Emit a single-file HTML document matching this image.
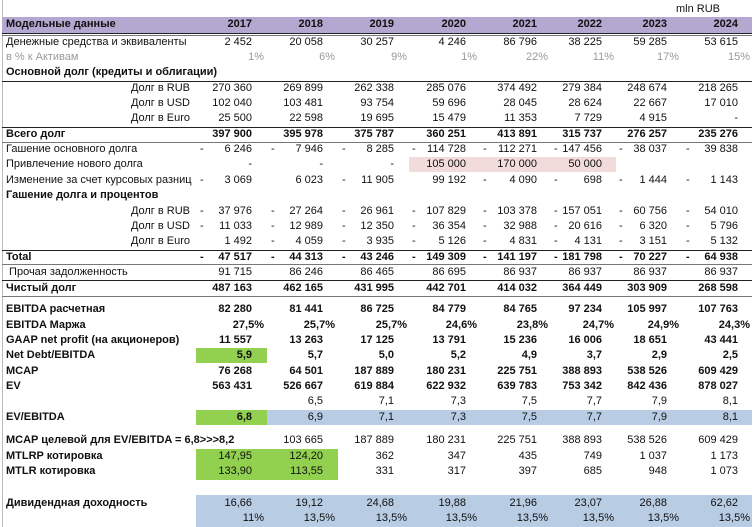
<!DOCTYPE html>
<html><head><meta charset="utf-8"><style>
body{margin:0;width:756px;height:527px;background:#fff;position:relative;overflow:hidden;font-family:"Liberation Sans",sans-serif;font-size:11px;color:#111}
.r{position:absolute;left:0;width:756px;height:15px;line-height:15px}
.r span{position:absolute;white-space:nowrap}
.b{font-weight:bold}
.l{left:6px}.li{right:566px}
.c1{right:504px}.c2{right:433px}.c3{right:362px}.c4{right:290px}.c5{right:219px}.c6{right:154px}.c7{right:89px}.c8{right:18px}
.p1{right:492px}.p2{right:421px}.p3{right:349px}.p4{right:279px}.p5{right:208px}.p6{right:142px}.p7{right:77px}.p8{right:6px}
.d1{left:200px}.d2{left:271px}.d3{left:342px}.d4{left:412px}.d5{left:483px}.d6{left:554px}.d7{left:619px}.d8{left:686px}
.hl{position:absolute;left:2px;width:750px;height:1px;background:#222}
.bx{position:absolute}
.g{color:#999}
</style></head><body>
<div style="position:absolute;left:2px;top:0;width:1px;height:527px;background:#bbb"></div>
<div class="bx" style="left:2px;top:17px;width:750px;height:16px;background:#b4a7d0"></div>
<div class="hl" style="top:33px"></div><div class="hl" style="top:35px;background:#777"></div>
<div class="hl" style="top:81px"></div>
<div class="hl" style="top:127px"></div>
<div class="hl" style="top:142px;background:#777"></div>
<div class="hl" style="top:250px"></div>
<div class="hl" style="top:264px;background:#777"></div>
<div class="hl" style="top:280px"></div>
<div class="hl" style="top:296px;background:#777"></div>
<div class="bx" style="left:409px;top:157px;width:207px;height:15px;background:#f2dcdb"></div>
<div class="bx" style="left:196px;top:348px;width:71px;height:15px;background:#92d050"></div>
<div class="bx" style="left:196px;top:410px;width:71px;height:15px;background:#92d050"></div>
<div class="bx" style="left:267px;top:410px;width:485px;height:15px;background:#b8cce4"></div>
<div class="bx" style="left:196px;top:449px;width:142px;height:31px;background:#92d050"></div>
<div class="bx" style="left:196px;top:495px;width:556px;height:32px;background:#b8cce4"></div>

<div class="r" style="top:2px"><span style="right:36px">mln RUB</span></div>
<div class="r b" style="top:17px"><span class="l">Модельные данные</span><span class="c1">2017</span><span class="c2">2018</span><span class="c3">2019</span><span class="c4">2020</span><span class="c5">2021</span><span class="c6">2022</span><span class="c7">2023</span><span class="c8">2024</span></div>
<div class="r" style="top:35px"><span class="l">Денежные средства и эквиваленты</span><span class="c1">2 452</span><span class="c2">20 058</span><span class="c3">30 257</span><span class="c4">4 246</span><span class="c5">86 796</span><span class="c6">38 225</span><span class="c7">59 285</span><span class="c8">53 615</span></div>
<div class="r g" style="top:50px"><span class="l">в % к Активам</span><span class="p1">1%</span><span class="p2">6%</span><span class="p3">9%</span><span class="p4">1%</span><span class="p5">22%</span><span class="p6">11%</span><span class="p7">17%</span><span class="p8">15%</span></div>
<div class="r b" style="top:65px"><span class="l">Основной долг (кредиты и облигации)</span></div>
<div class="r" style="top:81px"><span class="li">Долг в RUB</span><span class="c1">270 360</span><span class="c2">269 899</span><span class="c3">262 338</span><span class="c4">285 076</span><span class="c5">374 492</span><span class="c6">279 384</span><span class="c7">248 674</span><span class="c8">218 265</span></div>
<div class="r" style="top:96px"><span class="li">Долг в USD</span><span class="c1">102 040</span><span class="c2">103 481</span><span class="c3">93 754</span><span class="c4">59 696</span><span class="c5">28 045</span><span class="c6">28 624</span><span class="c7">22 667</span><span class="c8">17 010</span></div>
<div class="r" style="top:111px"><span class="li">Долг в Euro</span><span class="c1">25 500</span><span class="c2">22 598</span><span class="c3">19 695</span><span class="c4">15 479</span><span class="c5">11 353</span><span class="c6">7 729</span><span class="c7">4 915</span><span class="c8">-</span></div>
<div class="r b" style="top:127px"><span class="l">Всего долг</span><span class="c1">397 900</span><span class="c2">395 978</span><span class="c3">375 787</span><span class="c4">360 251</span><span class="c5">413 891</span><span class="c6">315 737</span><span class="c7">276 257</span><span class="c8">235 276</span></div>
<div class="r" style="top:142px"><span class="l">Гашение основного долга</span><span class="d1">-</span><span class="c1">6 246</span><span class="d2">-</span><span class="c2">7 946</span><span class="d3">-</span><span class="c3">8 285</span><span class="d4">-</span><span class="c4">114 728</span><span class="d5">-</span><span class="c5">112 271</span><span class="d6">-</span><span class="c6">147 456</span><span class="d7">-</span><span class="c7">38 037</span><span class="d8">-</span><span class="c8">39 838</span></div>
<div class="r" style="top:157px"><span class="l">Привлечение нового долга</span><span class="c1">-</span><span class="c2">-</span><span class="c3">-</span><span class="c4">105 000</span><span class="c5">170 000</span><span class="c6">50 000</span></div>
<div class="r" style="top:173px"><span class="l">Изменение за счет курсовых разниц</span><span class="d1">-</span><span class="c1">3 069</span><span class="c2">6 023</span><span class="d3">-</span><span class="c3">11 905</span><span class="c4">99 192</span><span class="d5">-</span><span class="c5">4 090</span><span class="d6">-</span><span class="c6">698</span><span class="d7">-</span><span class="c7">1 444</span><span class="d8">-</span><span class="c8">1 143</span></div>
<div class="r b" style="top:188px"><span class="l">Гашение долга и процентов</span></div>
<div class="r" style="top:204px"><span class="li">Долг в RUB</span><span class="d1">-</span><span class="c1">37 976</span><span class="d2">-</span><span class="c2">27 264</span><span class="d3">-</span><span class="c3">26 961</span><span class="d4">-</span><span class="c4">107 829</span><span class="d5">-</span><span class="c5">103 378</span><span class="d6">-</span><span class="c6">157 051</span><span class="d7">-</span><span class="c7">60 756</span><span class="d8">-</span><span class="c8">54 010</span></div>
<div class="r" style="top:219px"><span class="li">Долг в USD</span><span class="d1">-</span><span class="c1">11 033</span><span class="d2">-</span><span class="c2">12 989</span><span class="d3">-</span><span class="c3">12 350</span><span class="d4">-</span><span class="c4">36 354</span><span class="d5">-</span><span class="c5">32 988</span><span class="d6">-</span><span class="c6">20 616</span><span class="d7">-</span><span class="c7">6 320</span><span class="d8">-</span><span class="c8">5 796</span></div>
<div class="r" style="top:234px"><span class="li">Долг в Euro</span><span class="c1">1 492</span><span class="d2">-</span><span class="c2">4 059</span><span class="d3">-</span><span class="c3">3 935</span><span class="d4">-</span><span class="c4">5 126</span><span class="d5">-</span><span class="c5">4 831</span><span class="d6">-</span><span class="c6">4 131</span><span class="d7">-</span><span class="c7">3 151</span><span class="d8">-</span><span class="c8">5 132</span></div>
<div class="r b" style="top:250px"><span class="l">Total</span><span class="d1">-</span><span class="c1">47 517</span><span class="d2">-</span><span class="c2">44 313</span><span class="d3">-</span><span class="c3">43 246</span><span class="d4">-</span><span class="c4">149 309</span><span class="d5">-</span><span class="c5">141 197</span><span class="d6">-</span><span class="c6">181 798</span><span class="d7">-</span><span class="c7">70 227</span><span class="d8">-</span><span class="c8">64 938</span></div>
<div class="r" style="top:265px"><span class="l">&nbsp;Прочая задолженность</span><span class="c1">91 715</span><span class="c2">86 246</span><span class="c3">86 465</span><span class="c4">86 695</span><span class="c5">86 937</span><span class="c6">86 937</span><span class="c7">86 937</span><span class="c8">86 937</span></div>
<div class="r b" style="top:281px"><span class="l">Чистый долг</span><span class="c1">487 163</span><span class="c2">462 165</span><span class="c3">431 995</span><span class="c4">442 701</span><span class="c5">414 032</span><span class="c6">364 449</span><span class="c7">303 909</span><span class="c8">268 598</span></div>
<div class="r b" style="top:302px"><span class="l">EBITDA расчетная</span><span class="c1">82 280</span><span class="c2">81 441</span><span class="c3">86 725</span><span class="c4">84 779</span><span class="c5">84 765</span><span class="c6">97 234</span><span class="c7">105 997</span><span class="c8">107 763</span></div>
<div class="r b" style="top:318px"><span class="l">EBITDA Маржа</span><span class="p1">27,5%</span><span class="p2">25,7%</span><span class="p3">25,7%</span><span class="p4">24,6%</span><span class="p5">23,8%</span><span class="p6">24,7%</span><span class="p7">24,9%</span><span class="p8">24,3%</span></div>
<div class="r b" style="top:333px"><span class="l">GAAP net profit (на акционеров)</span><span class="c1">11 557</span><span class="c2">13 263</span><span class="c3">17 125</span><span class="c4">13 791</span><span class="c5">15 236</span><span class="c6">16 006</span><span class="c7">18 651</span><span class="c8">43 441</span></div>
<div class="r b" style="top:348px"><span class="l">Net Debt/EBITDA</span><span class="c1">5,9</span><span class="c2">5,7</span><span class="c3">5,0</span><span class="c4">5,2</span><span class="c5">4,9</span><span class="c6">3,7</span><span class="c7">2,9</span><span class="c8">2,5</span></div>
<div class="r b" style="top:364px"><span class="l">MCAP</span><span class="c1">76 268</span><span class="c2">64 501</span><span class="c3">187 889</span><span class="c4">180 231</span><span class="c5">225 751</span><span class="c6">388 893</span><span class="c7">538 526</span><span class="c8">609 429</span></div>
<div class="r b" style="top:379px"><span class="l">EV</span><span class="c1">563 431</span><span class="c2">526 667</span><span class="c3">619 884</span><span class="c4">622 932</span><span class="c5">639 783</span><span class="c6">753 342</span><span class="c7">842 436</span><span class="c8">878 027</span></div>
<div class="r" style="top:394px"><span class="c2">6,5</span><span class="c3">7,1</span><span class="c4">7,3</span><span class="c5">7,5</span><span class="c6">7,7</span><span class="c7">7,9</span><span class="c8">8,1</span></div>
<div class="r" style="top:410px"><span class="l b">EV/EBITDA</span><span class="c1 b">6,8</span><span class="c2">6,9</span><span class="c3">7,1</span><span class="c4">7,3</span><span class="c5">7,5</span><span class="c6">7,7</span><span class="c7">7,9</span><span class="c8">8,1</span></div>
<div class="r" style="top:433px"><span class="l b">MCAP целевой для EV/EBITDA = 6,8&gt;&gt;&gt;8,2</span><span class="c2">103 665</span><span class="c3">187 889</span><span class="c4">180 231</span><span class="c5">225 751</span><span class="c6">388 893</span><span class="c7">538 526</span><span class="c8">609 429</span></div>
<div class="r" style="top:449px"><span class="l b">MTLRP котировка</span><span class="c1">147,95</span><span class="c2">124,20</span><span class="c3">362</span><span class="c4">347</span><span class="c5">435</span><span class="c6">749</span><span class="c7">1 037</span><span class="c8">1 173</span></div>
<div class="r" style="top:464px"><span class="l b">MTLR котировка</span><span class="c1">133,90</span><span class="c2">113,55</span><span class="c3">331</span><span class="c4">317</span><span class="c5">397</span><span class="c6">685</span><span class="c7">948</span><span class="c8">1 073</span></div>
<div class="r" style="top:496px"><span class="l b">Дивидендная доходность</span><span class="c1">16,66</span><span class="c2">19,12</span><span class="c3">24,68</span><span class="c4">19,88</span><span class="c5">21,96</span><span class="c6">23,07</span><span class="c7">26,88</span><span class="c8">62,62</span></div>
<div class="r" style="top:511px"><span class="p1">11%</span><span class="p2">13,5%</span><span class="p3">13,5%</span><span class="p4">13,5%</span><span class="p5">13,5%</span><span class="p6">13,5%</span><span class="p7">13,5%</span><span class="p8">13,5%</span></div>
</body></html>
